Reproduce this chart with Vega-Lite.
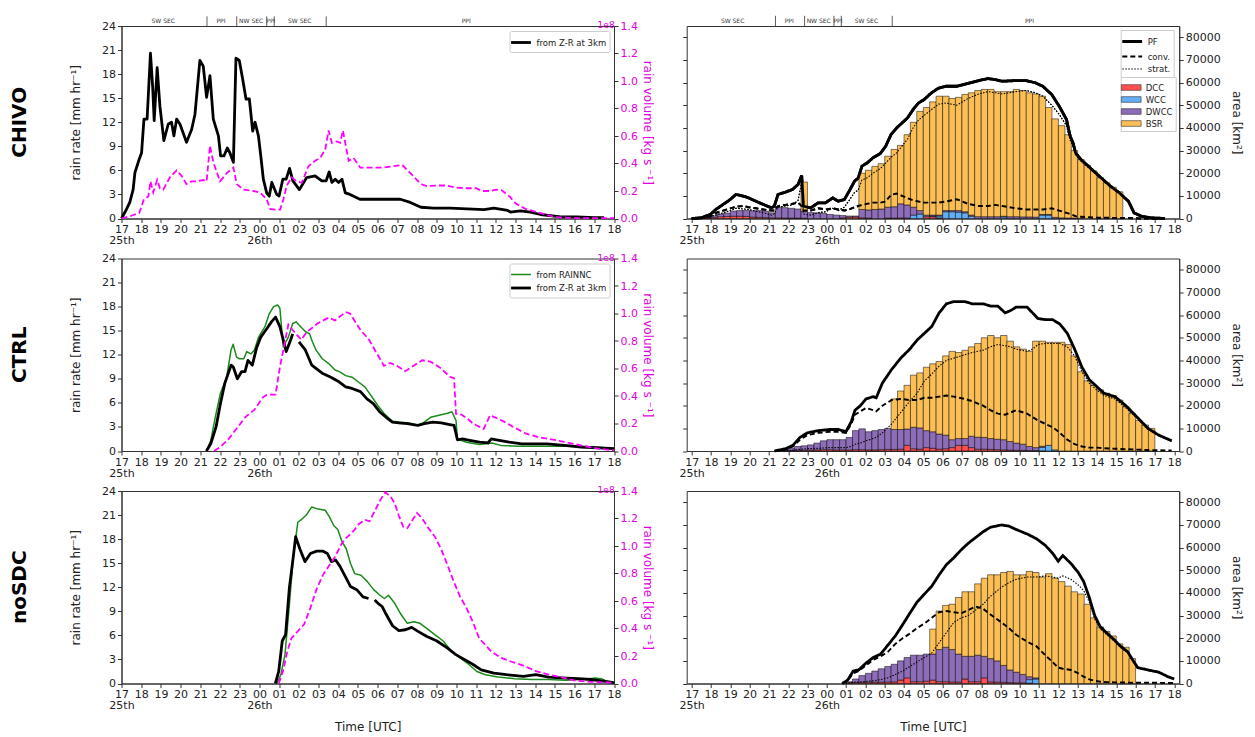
{
"$schema": "https://vega.github.io/schema/vega-lite/v6.json",
"padding": {"left": 8.5, "top": 14, "right": 4, "bottom": 2},
"background": "white",
"config": {
  "font": "DejaVu Sans",
  "view": {"stroke": "#333", "strokeWidth": 1},
  "axis": {"labelFont": "DejaVu Sans", "labelFontSize": 11, "labelColor": "#222", "titleFont": "DejaVu Sans", "titleFontSize": 12, "titleFontWeight": "normal", "titleColor": "#222", "tickColor": "#333", "domainColor": "#333", "grid": false, "tickSize": 4, "labelPadding": 2},
  "legend": {"labelFont": "DejaVu Sans", "labelColor": "#222", "labelOffset": 7, "layout": {"top-right": {"direction": "vertical", "margin": 0}}},
  "title": {"font": "DejaVu Sans"}
},
"datasets": {
  "a_rr": [
    {"t":0,"v":0},{"t":0.2,"v":0.9},{"t":0.42,"v":2.0},{"t":0.59,"v":3.6},{"t":0.68,"v":5.7},{"t":0.9,"v":7.4},{"t":1.02,"v":8.2},{"t":1.14,"v":12.4},{"t":1.3,"v":12.4},{"t":1.47,"v":20.6},{"t":1.58,"v":16.5},{"t":1.66,"v":12.2},{"t":1.81,"v":18.8},{"t":1.95,"v":14},{"t":2.15,"v":9.7},{"t":2.37,"v":11.75},{"t":2.54,"v":12},{"t":2.66,"v":10.3},{"t":2.8,"v":12.4},{"t":2.97,"v":11.75},{"t":3.3,"v":9.5},{"t":3.56,"v":11.1},{"t":3.73,"v":13},{"t":3.98,"v":19.7},{"t":4.15,"v":19},{"t":4.32,"v":15.1},{"t":4.49,"v":17.8},{"t":4.66,"v":12.4},{"t":4.92,"v":10.3},{"t":5.03,"v":7.8},{"t":5.2,"v":7.8},{"t":5.37,"v":8.8},{"t":5.5,"v":8.2},{"t":5.68,"v":7},{"t":5.81,"v":20},{"t":5.98,"v":19.7},{"t":6.15,"v":17.4},{"t":6.32,"v":14.9},{"t":6.49,"v":14.9},{"t":6.66,"v":10.9},{"t":6.78,"v":12},{"t":6.95,"v":10.3},{"t":7.07,"v":7.8},{"t":7.2,"v":4.9},{"t":7.37,"v":3.2},{"t":7.5,"v":2.8},{"t":7.63,"v":4.5},{"t":7.88,"v":3},{"t":8.0,"v":2.8},{"t":8.19,"v":4.9},{"t":8.36,"v":4.9},{"t":8.53,"v":6.25},{"t":8.7,"v":4.7},{"t":9.03,"v":3.6},{"t":9.4,"v":5.1},{"t":9.83,"v":5.3},{"t":10.17,"v":4.7},{"t":10.39,"v":4.7},{"t":10.54,"v":5.8},{"t":10.68,"v":4.5},{"t":10.85,"v":4.9},{"t":11.02,"v":4.5},{"t":11.19,"v":4.9},{"t":11.36,"v":3.2},{"t":11.6,"v":3},{"t":12.1,"v":2.4},{"t":13.47,"v":2.4},{"t":14.15,"v":2.4},{"t":14.66,"v":2.0},{"t":15.2,"v":1.4},{"t":15.85,"v":1.3},{"t":16.7,"v":1.3},{"t":17.54,"v":1.2},{"t":18.4,"v":1.1},{"t":18.9,"v":1.3},{"t":19.6,"v":1.0},{"t":19.75,"v":0.8},{"t":20.25,"v":0.95},{"t":20.76,"v":0.8},{"t":21.27,"v":0.5},{"t":22.3,"v":0.2},{"t":23.1,"v":0.2},{"t":24.0,"v":0.1},{"t":24.5,"v":0.1}
  ],
  "a_vol": [
    {"t":0,"q":0},{"t":0.5,"q":0.02},{"t":0.9,"q":0.04},{"t":1.14,"q":0.14},{"t":1.36,"q":0.16},{"t":1.47,"q":0.27},{"t":1.61,"q":0.19},{"t":1.81,"q":0.28},{"t":1.95,"q":0.22},{"t":2.12,"q":0.21},{"t":2.46,"q":0.3},{"t":2.8,"q":0.35},{"t":3.05,"q":0.31},{"t":3.3,"q":0.25},{"t":3.56,"q":0.27},{"t":3.81,"q":0.27},{"t":4.15,"q":0.28},{"t":4.32,"q":0.27},{"t":4.49,"q":0.53},{"t":4.66,"q":0.41},{"t":5.0,"q":0.27},{"t":5.34,"q":0.33},{"t":5.68,"q":0.37},{"t":5.85,"q":0.25},{"t":6.19,"q":0.21},{"t":6.69,"q":0.2},{"t":7.03,"q":0.19},{"t":7.37,"q":0.14},{"t":7.54,"q":0.07},{"t":7.8,"q":0.065},{"t":8.05,"q":0.065},{"t":8.22,"q":0.14},{"t":8.39,"q":0.24},{"t":8.64,"q":0.3},{"t":8.9,"q":0.27},{"t":9.15,"q":0.26},{"t":9.49,"q":0.38},{"t":9.83,"q":0.42},{"t":10.08,"q":0.44},{"t":10.34,"q":0.5},{"t":10.51,"q":0.64},{"t":10.68,"q":0.55},{"t":10.93,"q":0.56},{"t":11.1,"q":0.55},{"t":11.24,"q":0.64},{"t":11.53,"q":0.42},{"t":11.78,"q":0.44},{"t":12.12,"q":0.37},{"t":12.63,"q":0.37},{"t":13.3,"q":0.37},{"t":13.8,"q":0.38},{"t":14.25,"q":0.39},{"t":14.66,"q":0.33},{"t":15.2,"q":0.25},{"t":15.5,"q":0.235},{"t":16.0,"q":0.24},{"t":16.5,"q":0.24},{"t":17.0,"q":0.225},{"t":17.5,"q":0.22},{"t":18.0,"q":0.22},{"t":18.3,"q":0.2},{"t":18.7,"q":0.2},{"t":19.0,"q":0.21},{"t":19.3,"q":0.205},{"t":19.7,"q":0.16},{"t":20.0,"q":0.11},{"t":20.5,"q":0.07},{"t":21.0,"q":0.05},{"t":21.5,"q":0.03},{"t":22.0,"q":0.01},{"t":23.0,"q":0.003},{"t":25,"q":0.003}
  ],
  "c_rr": [
    {"t":4.31,"v":0,"s":"R"},{"t":4.53,"v":1.3,"s":"R"},{"t":4.76,"v":4.2,"s":"R"},{"t":5.02,"v":7.2,"s":"R"},{"t":5.34,"v":9.2,"s":"R"},{"t":5.56,"v":12.6,"s":"R"},{"t":5.67,"v":13.3,"s":"R"},{"t":5.84,"v":11.7,"s":"R"},{"t":5.99,"v":11.5,"s":"R"},{"t":6.21,"v":11.5,"s":"R"},{"t":6.36,"v":12.4,"s":"R"},{"t":6.57,"v":12.1,"s":"R"},{"t":6.75,"v":12.6,"s":"R"},{"t":6.96,"v":14.2,"s":"R"},{"t":7.28,"v":15.5,"s":"R"},{"t":7.5,"v":17.1,"s":"R"},{"t":7.72,"v":18.0,"s":"R"},{"t":7.93,"v":18.2,"s":"R"},{"t":8.04,"v":17.8,"s":"R"},{"t":8.21,"v":13,"s":"R"},{"t":8.47,"v":14.2,"s":"R"},{"t":8.69,"v":15.9,"s":"R"},{"t":8.86,"v":16.1,"s":"R"},{"t":9.01,"v":15.7,"s":"R"},{"t":9.33,"v":14.9,"s":"R"},{"t":9.55,"v":14.6,"s":"R"},{"t":9.66,"v":13.8,"s":"R"},{"t":9.87,"v":12.6,"s":"R"},{"t":10.19,"v":11.5,"s":"R"},{"t":10.52,"v":10.9,"s":"R"},{"t":10.84,"v":10.1,"s":"R"},{"t":11.06,"v":9.9,"s":"R"},{"t":11.38,"v":9.4,"s":"R"},{"t":11.7,"v":9.2,"s":"R"},{"t":12.03,"v":8.6,"s":"R"},{"t":12.35,"v":8.0,"s":"R"},{"t":12.67,"v":6.9,"s":"R"},{"t":13.0,"v":5.7,"s":"R"},{"t":13.32,"v":4.7,"s":"R"},{"t":13.75,"v":3.7,"s":"R"},{"t":14.18,"v":3.6,"s":"R"},{"t":14.61,"v":3.5,"s":"R"},{"t":15.04,"v":3.2,"s":"R"},{"t":15.37,"v":3.6,"s":"R"},{"t":15.69,"v":4.2,"s":"R"},{"t":16.12,"v":4.45,"s":"R"},{"t":16.55,"v":4.7,"s":"R"},{"t":16.77,"v":4.9,"s":"R"},{"t":16.98,"v":3.8,"s":"R"},{"t":17.05,"v":1.5,"s":"R"},{"t":17.52,"v":1.1,"s":"R"},{"t":18.17,"v":0.8,"s":"R"},{"t":18.8,"v":1.0,"s":"R"},{"t":19.25,"v":0.7,"s":"R"},{"t":20.1,"v":0.6,"s":"R"},{"t":20.97,"v":0.6,"s":"R"},{"t":21.8,"v":0.6,"s":"R"},{"t":22.9,"v":0.6,"s":"R"},{"t":24,"v":0.5,"s":"R"},{"t":25,"v":0.3,"s":"R"},
    {"t":4.31,"v":0,"s":"Z","g":1},{"t":4.53,"v":0.9,"s":"Z","g":1},{"t":4.8,"v":3,"s":"Z","g":1},{"t":5.02,"v":5.9,"s":"Z","g":1},{"t":5.24,"v":8.4,"s":"Z","g":1},{"t":5.56,"v":10.7,"s":"Z","g":1},{"t":5.67,"v":10.5,"s":"Z","g":1},{"t":5.88,"v":9,"s":"Z","g":1},{"t":6.1,"v":9.9,"s":"Z","g":1},{"t":6.27,"v":9.9,"s":"Z","g":1},{"t":6.42,"v":11.3,"s":"Z","g":1},{"t":6.64,"v":10.7,"s":"Z","g":1},{"t":6.85,"v":12.8,"s":"Z","g":1},{"t":7.07,"v":14.2,"s":"Z","g":1},{"t":7.39,"v":15.3,"s":"Z","g":1},{"t":7.61,"v":16.1,"s":"Z","g":1},{"t":7.82,"v":16.7,"s":"Z","g":1},{"t":8.04,"v":15.5,"s":"Z","g":1},{"t":8.36,"v":12.4,"s":"Z","g":1},{"t":8.58,"v":13.8,"s":"Z","g":1},{"t":8.69,"v":14.6,"s":"Z","g":1},
    {"t":9.01,"v":13.6,"s":"Z","g":2},{"t":9.33,"v":12.6,"s":"Z","g":2},{"t":9.66,"v":10.7,"s":"Z","g":2},{"t":9.87,"v":10.3,"s":"Z","g":2},{"t":10.19,"v":9.7,"s":"Z","g":2},{"t":10.63,"v":9.2,"s":"Z","g":2},{"t":11.06,"v":8.6,"s":"Z","g":2},{"t":11.38,"v":8,"s":"Z","g":2},{"t":11.7,"v":7.8,"s":"Z","g":2},{"t":12.13,"v":7.4,"s":"Z","g":2},{"t":12.46,"v":6.5,"s":"Z","g":2},{"t":12.78,"v":5.9,"s":"Z","g":2},{"t":13.1,"v":4.9,"s":"Z","g":2},{"t":13.43,"v":4.2,"s":"Z","g":2},{"t":13.75,"v":3.6,"s":"Z","g":2},{"t":14.07,"v":3.5,"s":"Z","g":2},{"t":14.5,"v":3.4,"s":"Z","g":2},{"t":15.04,"v":3.2,"s":"Z","g":2},{"t":15.37,"v":3.4,"s":"Z","g":2},{"t":15.8,"v":3.6,"s":"Z","g":2},{"t":16.23,"v":3.5,"s":"Z","g":2},{"t":16.66,"v":3.3,"s":"Z","g":2},{"t":16.88,"v":3.2,"s":"Z","g":2},{"t":16.98,"v":2.2,"s":"Z","g":2},{"t":17.05,"v":1.4,"s":"Z","g":2},{"t":17.3,"v":1.5,"s":"Z","g":2},{"t":17.74,"v":1.3,"s":"Z","g":2},{"t":18.17,"v":1.1,"s":"Z","g":2},{"t":18.6,"v":1.0,"s":"Z","g":2},{"t":18.77,"v":1.5,"s":"Z","g":2},{"t":19.03,"v":1.4,"s":"Z","g":2},{"t":19.68,"v":1.1,"s":"Z","g":2},{"t":20.32,"v":0.9,"s":"Z","g":2},{"t":21.6,"v":0.9,"s":"Z","g":2},{"t":22.48,"v":0.7,"s":"Z","g":2},{"t":23.34,"v":0.5,"s":"Z","g":2},{"t":25,"v":0.3,"s":"Z","g":2}
  ],
  "c_vol": [
    {"t":4.7,"q":0},{"t":5.02,"q":0.03},{"t":5.45,"q":0.09},{"t":5.88,"q":0.17},{"t":6.31,"q":0.25},{"t":6.75,"q":0.3},{"t":7.18,"q":0.39},{"t":7.39,"q":0.41},{"t":7.82,"q":0.41},{"t":8.04,"q":0.61},{"t":8.25,"q":0.76},{"t":8.47,"q":0.92},{"t":8.69,"q":0.88},{"t":9.12,"q":0.81},{"t":9.44,"q":0.87},{"t":9.98,"q":0.93},{"t":10.52,"q":0.97},{"t":10.84,"q":0.95},{"t":11.38,"q":1.01},{"t":11.6,"q":1.0},{"t":12.13,"q":0.88},{"t":12.56,"q":0.81},{"t":13.0,"q":0.7},{"t":13.32,"q":0.62},{"t":13.64,"q":0.64},{"t":13.97,"q":0.62},{"t":14.4,"q":0.58},{"t":14.83,"q":0.62},{"t":15.26,"q":0.66},{"t":15.69,"q":0.65},{"t":16.23,"q":0.6},{"t":16.66,"q":0.54},{"t":16.88,"q":0.53},{"t":16.98,"q":0.27},{"t":17.2,"q":0.27},{"t":17.52,"q":0.24},{"t":17.84,"q":0.2},{"t":18.38,"q":0.16},{"t":18.71,"q":0.26},{"t":19.03,"q":0.24},{"t":19.46,"q":0.21},{"t":19.89,"q":0.175},{"t":20.54,"q":0.126},{"t":21.19,"q":0.1},{"t":21.83,"q":0.085},{"t":22.48,"q":0.066},{"t":23.34,"q":0.04},{"t":24.2,"q":0.017},{"t":25,"q":0.005}
  ],
  "e_rr": [
    {"t":7.88,"v":0,"s":"R"},{"t":8.09,"v":1.1,"s":"R"},{"t":8.3,"v":3.6,"s":"R"},{"t":8.52,"v":9.8,"s":"R"},{"t":8.73,"v":16,"s":"R"},{"t":8.95,"v":20.1,"s":"R"},{"t":9.16,"v":20.5,"s":"R"},{"t":9.38,"v":21.0,"s":"R"},{"t":9.65,"v":22.0,"s":"R"},{"t":9.91,"v":21.8,"s":"R"},{"t":10.34,"v":21.6,"s":"R"},{"t":10.55,"v":20.8,"s":"R"},{"t":10.77,"v":19.7,"s":"R"},{"t":10.98,"v":19.2,"s":"R"},{"t":11.19,"v":17.7,"s":"R"},{"t":11.41,"v":16.8,"s":"R"},{"t":11.62,"v":15.0,"s":"R"},{"t":11.84,"v":13.7,"s":"R"},{"t":12.16,"v":13.5,"s":"R"},{"t":12.48,"v":12.7,"s":"R"},{"t":12.8,"v":11.7,"s":"R"},{"t":13.12,"v":11.0,"s":"R"},{"t":13.34,"v":10.6,"s":"R"},{"t":13.55,"v":11.0,"s":"R"},{"t":13.87,"v":10.0,"s":"R"},{"t":14.19,"v":8.6,"s":"R"},{"t":14.51,"v":7.5,"s":"R"},{"t":14.83,"v":7.7,"s":"R"},{"t":15.15,"v":7.5,"s":"R"},{"t":15.48,"v":6.9,"s":"R"},{"t":15.9,"v":6.1,"s":"R"},{"t":16.33,"v":5.3,"s":"R"},{"t":16.76,"v":4.0,"s":"R"},{"t":17.19,"v":3.2,"s":"R"},{"t":17.62,"v":2.4,"s":"R"},{"t":18.04,"v":1.5,"s":"R"},{"t":18.47,"v":1.1,"s":"R"},{"t":19.11,"v":0.8,"s":"R"},{"t":19.97,"v":0.6,"s":"R"},{"t":20.83,"v":0.5,"s":"R"},{"t":21.68,"v":0.5,"s":"R"},{"t":22.54,"v":0.4,"s":"R"},{"t":23.4,"v":0.5,"s":"R"},{"t":24.04,"v":0.7,"s":"R"},{"t":24.36,"v":0.6,"s":"R"},{"t":24.68,"v":0.2,"s":"R"},{"t":25,"v":0.05,"s":"R"},
    {"t":7.81,"v":0,"s":"Z","g":1},{"t":7.98,"v":1.5,"s":"Z","g":1},{"t":8.16,"v":5.3,"s":"Z","g":1},{"t":8.33,"v":6.1,"s":"Z","g":1},{"t":8.52,"v":11.9,"s":"Z","g":1},{"t":8.73,"v":16,"s":"Z","g":1},{"t":8.84,"v":18.3,"s":"Z","g":1},{"t":9.05,"v":16.8,"s":"Z","g":1},{"t":9.31,"v":15.2,"s":"Z","g":1},{"t":9.59,"v":16.2,"s":"Z","g":1},{"t":9.91,"v":16.5,"s":"Z","g":1},{"t":10.23,"v":16.5,"s":"Z","g":1},{"t":10.45,"v":16.2,"s":"Z","g":1},{"t":10.66,"v":15.2,"s":"Z","g":1},{"t":10.87,"v":15.4,"s":"Z","g":1},{"t":11.09,"v":14.6,"s":"Z","g":1},{"t":11.41,"v":13.1,"s":"Z","g":1},{"t":11.62,"v":12.1,"s":"Z","g":1},{"t":11.94,"v":11.7,"s":"Z","g":1},{"t":12.26,"v":10.8,"s":"Z","g":1},{"t":12.54,"v":10.6,"s":"Z","g":1},
    {"t":12.85,"v":10.4,"s":"Z","g":2},{"t":13.02,"v":10.0,"s":"Z","g":2},{"t":13.23,"v":9.6,"s":"Z","g":2},{"t":13.44,"v":8.6,"s":"Z","g":2},{"t":13.76,"v":7.2,"s":"Z","g":2},{"t":14.08,"v":6.6,"s":"Z","g":2},{"t":14.41,"v":6.7,"s":"Z","g":2},{"t":14.73,"v":7.0,"s":"Z","g":2},{"t":15.05,"v":6.5,"s":"Z","g":2},{"t":15.48,"v":5.9,"s":"Z","g":2},{"t":16.01,"v":5.3,"s":"Z","g":2},{"t":16.55,"v":4.4,"s":"Z","g":2},{"t":16.97,"v":3.6,"s":"Z","g":2},{"t":17.4,"v":3.0,"s":"Z","g":2},{"t":17.83,"v":2.4,"s":"Z","g":2},{"t":18.26,"v":1.7,"s":"Z","g":2},{"t":18.9,"v":1.3,"s":"Z","g":2},{"t":19.54,"v":1.1,"s":"Z","g":2},{"t":20.4,"v":0.9,"s":"Z","g":2},{"t":21.04,"v":1.1,"s":"Z","g":2},{"t":21.68,"v":0.8,"s":"Z","g":2},{"t":22.32,"v":0.7,"s":"Z","g":2},{"t":23.18,"v":0.6,"s":"Z","g":2},{"t":23.82,"v":0.5,"s":"Z","g":2},{"t":24.47,"v":0.3,"s":"Z","g":2},{"t":25,"v":0.1,"s":"Z","g":2}
  ],
  "e_vol": [
    {"t":7.98,"q":0},{"t":8.2,"q":0.09},{"t":8.41,"q":0.23},{"t":8.63,"q":0.33},{"t":8.95,"q":0.38},{"t":9.27,"q":0.43},{"t":9.59,"q":0.55},{"t":9.91,"q":0.69},{"t":10.23,"q":0.79},{"t":10.55,"q":0.86},{"t":10.87,"q":0.93},{"t":11.19,"q":1.02},{"t":11.41,"q":1.06},{"t":11.73,"q":1.1},{"t":12.05,"q":1.16},{"t":12.37,"q":1.19},{"t":12.59,"q":1.18},{"t":12.91,"q":1.27},{"t":13.12,"q":1.33},{"t":13.38,"q":1.39},{"t":13.66,"q":1.36},{"t":13.87,"q":1.31},{"t":14.08,"q":1.22},{"t":14.3,"q":1.14},{"t":14.51,"q":1.13},{"t":14.73,"q":1.18},{"t":15.0,"q":1.24},{"t":15.26,"q":1.2},{"t":15.58,"q":1.13},{"t":15.9,"q":1.07},{"t":16.22,"q":0.98},{"t":16.55,"q":0.86},{"t":16.87,"q":0.74},{"t":17.19,"q":0.63},{"t":17.51,"q":0.55},{"t":17.83,"q":0.45},{"t":18.15,"q":0.33},{"t":18.47,"q":0.28},{"t":18.79,"q":0.23},{"t":19.22,"q":0.19},{"t":19.76,"q":0.16},{"t":20.4,"q":0.13},{"t":21.04,"q":0.09},{"t":21.68,"q":0.065},{"t":22.32,"q":0.046},{"t":22.97,"q":0.022},{"t":23.82,"q":0.012},{"t":25,"q":0.005}
  ],
  "b_lines": [
    {"t":0,"PF":0,"conv":0,"strat":0},{"t":0.49,"PF":300,"conv":200,"strat":100},{"t":0.97,"PF":1800,"conv":1000,"strat":800},{"t":1.25,"PF":4000,"conv":2500,"strat":1500},{"t":1.63,"PF":6200,"conv":3500,"strat":2500},{"t":2.0,"PF":8400,"conv":4500,"strat":3500},{"t":2.29,"PF":10600,"conv":5200,"strat":4500},{"t":2.67,"PF":9900,"conv":5500,"strat":4200},{"t":2.95,"PF":9100,"conv":5000,"strat":4000},{"t":3.33,"PF":7600,"conv":4500,"strat":3200},{"t":3.71,"PF":6200,"conv":4000,"strat":2500},{"t":4.13,"PF":4700,"conv":3500,"strat":1500},{"t":4.28,"PF":5400,"conv":3500,"strat":2000},{"t":4.47,"PF":10600,"conv":5500,"strat":5000},{"t":4.84,"PF":11600,"conv":6000,"strat":5500},{"t":5.22,"PF":12800,"conv":6500,"strat":6000},{"t":5.51,"PF":15000,"conv":7000,"strat":8000},{"t":5.7,"PF":19000,"conv":5500,"strat":16000},{"t":5.79,"PF":5400,"conv":3500,"strat":2000},{"t":6.17,"PF":4700,"conv":3500,"strat":1500},{"t":6.55,"PF":6900,"conv":4500,"strat":2500},{"t":6.93,"PF":6900,"conv":4000,"strat":3000},{"t":7.31,"PF":9100,"conv":4500,"strat":4500},{"t":7.59,"PF":7600,"conv":4000,"strat":3500},{"t":7.91,"PF":8400,"conv":3500,"strat":5000},{"t":8.16,"PF":12100,"conv":4000,"strat":8000},{"t":8.44,"PF":16500,"conv":5000,"strat":11500},{"t":8.63,"PF":17900,"conv":5500,"strat":12500},{"t":8.82,"PF":23100,"conv":6000,"strat":17000},{"t":9.1,"PF":24600,"conv":6500,"strat":18000},{"t":9.39,"PF":26800,"conv":7000,"strat":20000},{"t":9.77,"PF":28700,"conv":7000,"strat":22000},{"t":10.05,"PF":31900,"conv":7500,"strat":24500},{"t":10.33,"PF":37100,"conv":10500,"strat":27000},{"t":10.62,"PF":40000,"conv":11000,"strat":29000},{"t":10.9,"PF":42200,"conv":10000,"strat":32000},{"t":11.18,"PF":44400,"conv":9000,"strat":35000},{"t":11.47,"PF":48100,"conv":8000,"strat":40000},{"t":11.75,"PF":51000,"conv":7500,"strat":43500},{"t":12.04,"PF":52500,"conv":7000,"strat":45500},{"t":12.41,"PF":55400,"conv":7000,"strat":48000},{"t":12.79,"PF":57600,"conv":7000,"strat":50500},{"t":13.17,"PF":58400,"conv":7500,"strat":51000},{"t":13.74,"PF":58400,"conv":8500,"strat":50000},{"t":14.31,"PF":59600,"conv":6500,"strat":53000},{"t":14.87,"PF":60900,"conv":5500,"strat":55000},{"t":15.35,"PF":61800,"conv":5500,"strat":56000},{"t":15.73,"PF":61300,"conv":6000,"strat":55500},{"t":16.1,"PF":60600,"conv":5500,"strat":55000},{"t":16.77,"PF":60900,"conv":4500,"strat":56000},{"t":17.34,"PF":60900,"conv":4000,"strat":56500},{"t":17.81,"PF":59900,"conv":4000,"strat":55500},{"t":18.19,"PF":58400,"conv":4000,"strat":54000},{"t":18.66,"PF":54700,"conv":4500,"strat":50000},{"t":19.04,"PF":49600,"conv":3500,"strat":46000},{"t":19.42,"PF":43700,"conv":2500,"strat":41000},{"t":19.61,"PF":36300,"conv":2000,"strat":34500},{"t":19.76,"PF":33400,"conv":1500,"strat":32000},{"t":19.89,"PF":29000,"conv":1000,"strat":28000},{"t":20.17,"PF":26000,"conv":800,"strat":25200},{"t":20.55,"PF":23100,"conv":600,"strat":22500},{"t":20.93,"PF":20100,"conv":400,"strat":19700},{"t":21.31,"PF":17200,"conv":300,"strat":16900},{"t":21.69,"PF":14300,"conv":300,"strat":14000},{"t":22.16,"PF":11300,"conv":200,"strat":11100},{"t":22.63,"PF":7600,"conv":200,"strat":7400},{"t":22.92,"PF":2500,"conv":100,"strat":2400},{"t":23.3,"PF":1000,"conv":0,"strat":1000},{"t":23.77,"PF":300,"conv":0,"strat":300},{"t":24.52,"PF":0,"conv":0,"strat":0}
  ],
  "b_bars": [
    {"t":0.83,"1DCC":200,"2WCC":0,"3DWCC":300,"4BSR":0},{"t":1.17,"1DCC":400,"2WCC":0,"3DWCC":800,"4BSR":0},{"t":1.5,"1DCC":800,"2WCC":0,"3DWCC":1200,"4BSR":0},{"t":1.83,"1DCC":900,"2WCC":0,"3DWCC":1500,"4BSR":0},{"t":2.17,"1DCC":1000,"2WCC":0,"3DWCC":2300,"4BSR":0},{"t":2.5,"1DCC":1000,"2WCC":0,"3DWCC":2500,"4BSR":0},{"t":2.83,"1DCC":900,"2WCC":0,"3DWCC":2600,"4BSR":0},{"t":3.17,"1DCC":600,"2WCC":0,"3DWCC":2800,"4BSR":0},{"t":3.5,"1DCC":500,"2WCC":0,"3DWCC":3000,"4BSR":0},{"t":3.83,"1DCC":400,"2WCC":0,"3DWCC":2800,"4BSR":0},{"t":4.17,"1DCC":300,"2WCC":0,"3DWCC":2200,"4BSR":0},{"t":4.5,"1DCC":300,"2WCC":0,"3DWCC":4700,"4BSR":0},{"t":4.83,"1DCC":200,"2WCC":0,"3DWCC":4600,"4BSR":0},{"t":5.17,"1DCC":200,"2WCC":0,"3DWCC":4300,"4BSR":0},{"t":5.5,"1DCC":200,"2WCC":0,"3DWCC":4000,"4BSR":0},{"t":5.83,"1DCC":100,"2WCC":0,"3DWCC":3000,"4BSR":13000},{"t":6.17,"1DCC":0,"2WCC":0,"3DWCC":2600,"4BSR":0},{"t":6.5,"1DCC":0,"2WCC":0,"3DWCC":2500,"4BSR":0},{"t":6.83,"1DCC":0,"2WCC":0,"3DWCC":2300,"4BSR":0},{"t":7.17,"1DCC":0,"2WCC":0,"3DWCC":1800,"4BSR":0},{"t":7.5,"1DCC":0,"2WCC":0,"3DWCC":1500,"4BSR":0},{"t":7.83,"1DCC":300,"2WCC":0,"3DWCC":1000,"4BSR":0},{"t":8.17,"1DCC":600,"2WCC":0,"3DWCC":500,"4BSR":0},{"t":8.5,"1DCC":700,"2WCC":0,"3DWCC":400,"4BSR":0},{"t":8.83,"1DCC":300,"2WCC":0,"3DWCC":3700,"4BSR":16000},{"t":9.17,"1DCC":200,"2WCC":0,"3DWCC":3600,"4BSR":17500},{"t":9.5,"1DCC":0,"2WCC":0,"3DWCC":4000,"4BSR":19000},{"t":9.83,"1DCC":0,"2WCC":0,"3DWCC":4200,"4BSR":20000},{"t":10.17,"1DCC":200,"2WCC":0,"3DWCC":4800,"4BSR":22500},{"t":10.5,"1DCC":200,"2WCC":0,"3DWCC":5000,"4BSR":25300},{"t":10.83,"1DCC":200,"2WCC":0,"3DWCC":6300,"4BSR":25800},{"t":11.17,"1DCC":200,"2WCC":0,"3DWCC":5800,"4BSR":31000},{"t":11.5,"1DCC":0,"2WCC":1500,"3DWCC":3500,"4BSR":37500},{"t":11.83,"1DCC":0,"2WCC":2000,"3DWCC":1500,"4BSR":43800},{"t":12.17,"1DCC":800,"2WCC":0,"3DWCC":700,"4BSR":47500},{"t":12.5,"1DCC":800,"2WCC":300,"3DWCC":400,"4BSR":50000},{"t":12.83,"1DCC":300,"2WCC":800,"3DWCC":400,"4BSR":52500},{"t":13.17,"1DCC":0,"2WCC":3000,"3DWCC":500,"4BSR":50500},{"t":13.5,"1DCC":0,"2WCC":3000,"3DWCC":500,"4BSR":49500},{"t":13.83,"1DCC":0,"2WCC":2800,"3DWCC":700,"4BSR":50000},{"t":14.17,"1DCC":0,"2WCC":2500,"3DWCC":500,"4BSR":51800},{"t":14.5,"1DCC":0,"2WCC":1000,"3DWCC":500,"4BSR":54000},{"t":14.83,"1DCC":0,"2WCC":0,"3DWCC":800,"4BSR":55700},{"t":15.17,"1DCC":0,"2WCC":0,"3DWCC":800,"4BSR":56200},{"t":15.5,"1DCC":0,"2WCC":0,"3DWCC":800,"4BSR":56200},{"t":15.83,"1DCC":0,"2WCC":0,"3DWCC":800,"4BSR":55200},{"t":16.17,"1DCC":0,"2WCC":700,"3DWCC":300,"4BSR":55000},{"t":16.5,"1DCC":0,"2WCC":0,"3DWCC":800,"4BSR":55200},{"t":16.83,"1DCC":0,"2WCC":0,"3DWCC":800,"4BSR":56200},{"t":17.17,"1DCC":0,"2WCC":0,"3DWCC":700,"4BSR":55800},{"t":17.5,"1DCC":0,"2WCC":0,"3DWCC":700,"4BSR":54800},{"t":17.83,"1DCC":0,"2WCC":0,"3DWCC":600,"4BSR":54400},{"t":18.17,"1DCC":0,"2WCC":1500,"3DWCC":300,"4BSR":52200},{"t":18.5,"1DCC":0,"2WCC":1500,"3DWCC":300,"4BSR":47200},{"t":18.83,"1DCC":0,"2WCC":0,"3DWCC":500,"4BSR":43500},{"t":19.17,"1DCC":0,"2WCC":0,"3DWCC":300,"4BSR":40700},{"t":19.5,"1DCC":0,"2WCC":0,"3DWCC":200,"4BSR":36800},{"t":19.83,"1DCC":0,"2WCC":0,"3DWCC":200,"4BSR":29800},{"t":20.17,"1DCC":0,"2WCC":0,"3DWCC":100,"4BSR":25900},{"t":20.5,"1DCC":0,"2WCC":0,"3DWCC":0,"4BSR":23500},{"t":20.83,"1DCC":0,"2WCC":0,"3DWCC":0,"4BSR":21000},{"t":21.17,"1DCC":0,"2WCC":0,"3DWCC":0,"4BSR":18000},{"t":21.5,"1DCC":0,"2WCC":0,"3DWCC":0,"4BSR":15800},{"t":21.83,"1DCC":0,"2WCC":0,"3DWCC":0,"4BSR":13800},{"t":22.17,"1DCC":0,"2WCC":0,"3DWCC":0,"4BSR":11800}
  ],
  "d_lines": [
    {"t":4.29,"PF":0,"conv":0,"strat":0},{"t":4.86,"PF":1000,"conv":800,"strat":200},{"t":5.24,"PF":2500,"conv":2000,"strat":400},{"t":5.61,"PF":6000,"conv":5000,"strat":700},{"t":5.99,"PF":8000,"conv":7000,"strat":1000},{"t":6.56,"PF":9000,"conv":8000,"strat":1200},{"t":7.13,"PF":9500,"conv":8500,"strat":1500},{"t":7.61,"PF":9500,"conv":8500,"strat":1500},{"t":7.99,"PF":8500,"conv":8000,"strat":1500},{"t":8.27,"PF":13000,"conv":12000,"strat":2000},{"t":8.46,"PF":18000,"conv":16000,"strat":3000},{"t":8.74,"PF":20000,"conv":17500,"strat":3500},{"t":9.03,"PF":23000,"conv":19000,"strat":4500},{"t":9.41,"PF":24000,"conv":18000,"strat":5500},{"t":9.56,"PF":23500,"conv":17500,"strat":6000},{"t":9.88,"PF":30000,"conv":20000,"strat":8000},{"t":10.36,"PF":36000,"conv":22500,"strat":12000},{"t":10.83,"PF":41000,"conv":23000,"strat":17000},{"t":11.3,"PF":45000,"conv":22500,"strat":22000},{"t":11.68,"PF":49000,"conv":22500,"strat":25500},{"t":12.06,"PF":52000,"conv":23500,"strat":31000},{"t":12.44,"PF":55000,"conv":23500,"strat":34000},{"t":12.82,"PF":61000,"conv":24000,"strat":37500},{"t":13.2,"PF":65000,"conv":24500,"strat":40000},{"t":13.58,"PF":66000,"conv":24000,"strat":41000},{"t":14.15,"PF":66000,"conv":23000,"strat":42500},{"t":14.53,"PF":65000,"conv":22000,"strat":43500},{"t":15.1,"PF":65000,"conv":20000,"strat":44500},{"t":15.48,"PF":64000,"conv":18000,"strat":46000},{"t":15.86,"PF":64000,"conv":16500,"strat":47000},{"t":16.24,"PF":61000,"conv":16000,"strat":46500},{"t":16.52,"PF":62000,"conv":17000,"strat":46000},{"t":16.81,"PF":63500,"conv":18000,"strat":45000},{"t":17.38,"PF":63500,"conv":16500,"strat":44000},{"t":17.66,"PF":61000,"conv":15000,"strat":45000},{"t":17.94,"PF":58500,"conv":13500,"strat":47000},{"t":18.32,"PF":58000,"conv":12000,"strat":47500},{"t":18.7,"PF":58000,"conv":10500,"strat":47500},{"t":19.08,"PF":56000,"conv":8000,"strat":47500},{"t":19.46,"PF":52000,"conv":5000,"strat":46000},{"t":19.84,"PF":45000,"conv":3000,"strat":42000},{"t":20.22,"PF":37000,"conv":2000,"strat":35000},{"t":20.6,"PF":31500,"conv":1500,"strat":30000},{"t":20.98,"PF":28500,"conv":1500,"strat":27000},{"t":21.36,"PF":25500,"conv":1200,"strat":24500},{"t":21.93,"PF":24000,"conv":1000,"strat":23000},{"t":22.5,"PF":20000,"conv":800,"strat":19000},{"t":23.07,"PF":15000,"conv":600,"strat":14500},{"t":23.64,"PF":10000,"conv":400,"strat":9600},{"t":24.2,"PF":7000,"conv":300,"strat":6700},{"t":24.87,"PF":4500,"conv":200,"strat":4300}
  ],
  "d_bars": [
    {"t":4.5,"1DCC":0,"2WCC":0,"3DWCC":300,"4BSR":0},{"t":4.83,"1DCC":100,"2WCC":0,"3DWCC":700,"4BSR":0},{"t":5.17,"1DCC":200,"2WCC":0,"3DWCC":1100,"4BSR":0},{"t":5.5,"1DCC":300,"2WCC":0,"3DWCC":1700,"4BSR":0},{"t":5.83,"1DCC":300,"2WCC":0,"3DWCC":2000,"4BSR":0},{"t":6.17,"1DCC":400,"2WCC":0,"3DWCC":2300,"4BSR":0},{"t":6.5,"1DCC":500,"2WCC":0,"3DWCC":3000,"4BSR":0},{"t":6.83,"1DCC":600,"2WCC":0,"3DWCC":3900,"4BSR":0},{"t":7.17,"1DCC":600,"2WCC":0,"3DWCC":4400,"4BSR":0},{"t":7.5,"1DCC":500,"2WCC":0,"3DWCC":4500,"4BSR":0},{"t":7.83,"1DCC":500,"2WCC":0,"3DWCC":4500,"4BSR":0},{"t":8.17,"1DCC":500,"2WCC":0,"3DWCC":5500,"4BSR":0},{"t":8.5,"1DCC":600,"2WCC":0,"3DWCC":8400,"4BSR":0},{"t":8.83,"1DCC":600,"2WCC":0,"3DWCC":9200,"4BSR":0},{"t":9.17,"1DCC":500,"2WCC":0,"3DWCC":8000,"4BSR":0},{"t":9.5,"1DCC":500,"2WCC":0,"3DWCC":8500,"4BSR":0},{"t":9.83,"1DCC":600,"2WCC":0,"3DWCC":8900,"4BSR":0},{"t":10.17,"1DCC":700,"2WCC":0,"3DWCC":9300,"4BSR":0},{"t":10.5,"1DCC":700,"2WCC":0,"3DWCC":8800,"4BSR":13500},{"t":10.83,"1DCC":800,"2WCC":0,"3DWCC":8700,"4BSR":17000},{"t":11.17,"1DCC":2500,"2WCC":0,"3DWCC":7200,"4BSR":19300},{"t":11.5,"1DCC":1000,"2WCC":0,"3DWCC":9500,"4BSR":23000},{"t":11.83,"1DCC":800,"2WCC":0,"3DWCC":9400,"4BSR":24300},{"t":12.17,"1DCC":1500,"2WCC":0,"3DWCC":7500,"4BSR":28000},{"t":12.5,"1DCC":1200,"2WCC":0,"3DWCC":7300,"4BSR":30000},{"t":12.83,"1DCC":800,"2WCC":0,"3DWCC":6700,"4BSR":32000},{"t":13.17,"1DCC":1000,"2WCC":0,"3DWCC":6000,"4BSR":35000},{"t":13.5,"1DCC":1500,"2WCC":0,"3DWCC":3500,"4BSR":39000},{"t":13.83,"1DCC":2500,"2WCC":0,"3DWCC":3000,"4BSR":38000},{"t":14.17,"1DCC":2500,"2WCC":0,"3DWCC":3000,"4BSR":39000},{"t":14.5,"1DCC":1500,"2WCC":0,"3DWCC":5000,"4BSR":39500},{"t":14.83,"1DCC":800,"2WCC":0,"3DWCC":5300,"4BSR":41400},{"t":15.17,"1DCC":800,"2WCC":0,"3DWCC":5200,"4BSR":44000},{"t":15.5,"1DCC":700,"2WCC":0,"3DWCC":4800,"4BSR":45500},{"t":15.83,"1DCC":600,"2WCC":0,"3DWCC":4600,"4BSR":44800},{"t":16.17,"1DCC":500,"2WCC":0,"3DWCC":4500,"4BSR":46000},{"t":16.5,"1DCC":400,"2WCC":0,"3DWCC":3800,"4BSR":44300},{"t":16.83,"1DCC":300,"2WCC":0,"3DWCC":3200,"4BSR":42500},{"t":17.17,"1DCC":300,"2WCC":0,"3DWCC":2700,"4BSR":42000},{"t":17.5,"1DCC":200,"2WCC":0,"3DWCC":1800,"4BSR":42000},{"t":17.83,"1DCC":200,"2WCC":0,"3DWCC":1300,"4BSR":47000},{"t":18.17,"1DCC":100,"2WCC":1500,"3DWCC":500,"4BSR":46400},{"t":18.5,"1DCC":0,"2WCC":2500,"3DWCC":0,"4BSR":45500},{"t":18.83,"1DCC":0,"2WCC":500,"3DWCC":0,"4BSR":47500},{"t":19.17,"1DCC":0,"2WCC":0,"3DWCC":0,"4BSR":48000},{"t":19.5,"1DCC":0,"2WCC":0,"3DWCC":0,"4BSR":47000},{"t":19.83,"1DCC":0,"2WCC":0,"3DWCC":0,"4BSR":42000},{"t":20.17,"1DCC":0,"2WCC":0,"3DWCC":0,"4BSR":35000},{"t":20.5,"1DCC":0,"2WCC":0,"3DWCC":0,"4BSR":31000},{"t":20.83,"1DCC":0,"2WCC":0,"3DWCC":0,"4BSR":29000},{"t":21.17,"1DCC":0,"2WCC":0,"3DWCC":0,"4BSR":27000},{"t":21.5,"1DCC":0,"2WCC":0,"3DWCC":0,"4BSR":25500},{"t":21.83,"1DCC":0,"2WCC":0,"3DWCC":0,"4BSR":24500},{"t":22.17,"1DCC":0,"2WCC":0,"3DWCC":0,"4BSR":22500},{"t":22.5,"1DCC":0,"2WCC":0,"3DWCC":0,"4BSR":19500},{"t":22.83,"1DCC":0,"2WCC":0,"3DWCC":0,"4BSR":16500},{"t":23.17,"1DCC":0,"2WCC":0,"3DWCC":0,"4BSR":13500},{"t":23.5,"1DCC":0,"2WCC":0,"3DWCC":0,"4BSR":11500},{"t":23.83,"1DCC":0,"2WCC":0,"3DWCC":0,"4BSR":10000}
  ],
  "f_lines": [
    {"t":7.8,"PF":0,"conv":0,"strat":0},{"t":8.08,"PF":1500,"conv":1300,"strat":200},{"t":8.37,"PF":5500,"conv":4500,"strat":500},{"t":8.65,"PF":6000,"conv":5500,"strat":600},{"t":9.03,"PF":9000,"conv":8000,"strat":900},{"t":9.41,"PF":11500,"conv":10500,"strat":1200},{"t":9.79,"PF":13000,"conv":12000,"strat":1700},{"t":10.17,"PF":17000,"conv":14000,"strat":2500},{"t":10.55,"PF":21000,"conv":17500,"strat":4000},{"t":10.93,"PF":26000,"conv":20000,"strat":5500},{"t":11.3,"PF":31000,"conv":22000,"strat":7500},{"t":11.68,"PF":36000,"conv":24500,"strat":9500},{"t":12.06,"PF":39500,"conv":26500,"strat":11500},{"t":12.44,"PF":43000,"conv":29000,"strat":13500},{"t":12.82,"PF":48000,"conv":31500,"strat":18000},{"t":13.2,"PF":52500,"conv":32000,"strat":22500},{"t":13.58,"PF":55500,"conv":31500,"strat":27000},{"t":13.96,"PF":59000,"conv":31000,"strat":29000},{"t":14.34,"PF":62000,"conv":32500,"strat":30000},{"t":14.72,"PF":64500,"conv":34000,"strat":32500},{"t":15.1,"PF":67000,"conv":33000,"strat":35000},{"t":15.48,"PF":69000,"conv":30500,"strat":38500},{"t":16.05,"PF":70000,"conv":27000,"strat":42500},{"t":16.43,"PF":69500,"conv":24500,"strat":44500},{"t":16.81,"PF":68000,"conv":21500,"strat":46000},{"t":17.38,"PF":66000,"conv":18500,"strat":47000},{"t":17.85,"PF":64000,"conv":16500,"strat":47000},{"t":18.32,"PF":61000,"conv":12500,"strat":47500},{"t":18.7,"PF":57500,"conv":9500,"strat":47000},{"t":18.99,"PF":54000,"conv":7000,"strat":46500},{"t":19.23,"PF":56500,"conv":6500,"strat":47500},{"t":19.65,"PF":53000,"conv":6000,"strat":46000},{"t":20.03,"PF":49000,"conv":4500,"strat":43500},{"t":20.31,"PF":45000,"conv":3000,"strat":41000},{"t":20.6,"PF":38000,"conv":1800,"strat":36000},{"t":20.88,"PF":30000,"conv":1200,"strat":28500},{"t":21.17,"PF":25000,"conv":800,"strat":24000},{"t":21.55,"PF":22000,"conv":600,"strat":21200},{"t":21.93,"PF":19000,"conv":500,"strat":18400},{"t":22.21,"PF":16500,"conv":400,"strat":16000},{"t":22.59,"PF":14000,"conv":400,"strat":13500},{"t":22.88,"PF":10000,"conv":300,"strat":9600},{"t":23.11,"PF":7000,"conv":300,"strat":6700},{"t":23.64,"PF":6000,"conv":300,"strat":5700},{"t":24.2,"PF":5000,"conv":300,"strat":4700},{"t":24.68,"PF":3000,"conv":200,"strat":2800},{"t":25.0,"PF":2000,"conv":200,"strat":1800}
  ],
  "f_bars": [
    {"t":8.17,"1DCC":300,"2WCC":0,"3DWCC":500,"4BSR":0},{"t":8.5,"1DCC":500,"2WCC":0,"3DWCC":1500,"4BSR":0},{"t":8.83,"1DCC":500,"2WCC":0,"3DWCC":3000,"4BSR":0},{"t":9.17,"1DCC":500,"2WCC":0,"3DWCC":4000,"4BSR":0},{"t":9.5,"1DCC":600,"2WCC":0,"3DWCC":4900,"4BSR":0},{"t":9.83,"1DCC":600,"2WCC":0,"3DWCC":5900,"4BSR":0},{"t":10.17,"1DCC":700,"2WCC":0,"3DWCC":6800,"4BSR":0},{"t":10.5,"1DCC":700,"2WCC":0,"3DWCC":7800,"4BSR":0},{"t":10.83,"1DCC":1500,"2WCC":0,"3DWCC":8500,"4BSR":0},{"t":11.17,"1DCC":2500,"2WCC":0,"3DWCC":9000,"4BSR":0},{"t":11.5,"1DCC":800,"2WCC":0,"3DWCC":11700,"4BSR":0},{"t":11.83,"1DCC":800,"2WCC":0,"3DWCC":11700,"4BSR":0},{"t":12.17,"1DCC":1000,"2WCC":0,"3DWCC":12000,"4BSR":0},{"t":12.5,"1DCC":1500,"2WCC":0,"3DWCC":11500,"4BSR":11000},{"t":12.83,"1DCC":800,"2WCC":0,"3DWCC":14200,"4BSR":17000},{"t":13.17,"1DCC":800,"2WCC":0,"3DWCC":15200,"4BSR":18500},{"t":13.5,"1DCC":700,"2WCC":0,"3DWCC":14300,"4BSR":20000},{"t":13.83,"1DCC":600,"2WCC":0,"3DWCC":12400,"4BSR":25000},{"t":14.17,"1DCC":2000,"2WCC":0,"3DWCC":10000,"4BSR":28500},{"t":14.5,"1DCC":800,"2WCC":0,"3DWCC":11200,"4BSR":28500},{"t":14.83,"1DCC":800,"2WCC":0,"3DWCC":11700,"4BSR":31500},{"t":15.17,"1DCC":2500,"2WCC":0,"3DWCC":9500,"4BSR":34500},{"t":15.5,"1DCC":700,"2WCC":0,"3DWCC":10300,"4BSR":37000},{"t":15.83,"1DCC":600,"2WCC":0,"3DWCC":9400,"4BSR":38000},{"t":16.17,"1DCC":500,"2WCC":0,"3DWCC":7500,"4BSR":41000},{"t":16.5,"1DCC":400,"2WCC":0,"3DWCC":5600,"4BSR":43500},{"t":16.83,"1DCC":300,"2WCC":0,"3DWCC":4700,"4BSR":43000},{"t":17.17,"1DCC":300,"2WCC":0,"3DWCC":3700,"4BSR":44000},{"t":17.5,"1DCC":200,"2WCC":1500,"3DWCC":1300,"4BSR":46500},{"t":17.83,"1DCC":0,"2WCC":2000,"3DWCC":500,"4BSR":46500},{"t":18.17,"1DCC":0,"2WCC":0,"3DWCC":0,"4BSR":47000},{"t":18.5,"1DCC":0,"2WCC":0,"3DWCC":0,"4BSR":48500},{"t":18.83,"1DCC":0,"2WCC":0,"3DWCC":0,"4BSR":46500},{"t":19.17,"1DCC":0,"2WCC":0,"3DWCC":0,"4BSR":45000},{"t":19.5,"1DCC":0,"2WCC":0,"3DWCC":0,"4BSR":43000},{"t":19.83,"1DCC":0,"2WCC":0,"3DWCC":0,"4BSR":40500},{"t":20.17,"1DCC":0,"2WCC":0,"3DWCC":0,"4BSR":39500},{"t":20.5,"1DCC":0,"2WCC":0,"3DWCC":0,"4BSR":35000},{"t":20.83,"1DCC":0,"2WCC":0,"3DWCC":0,"4BSR":29000},{"t":21.17,"1DCC":0,"2WCC":0,"3DWCC":0,"4BSR":25000},{"t":21.5,"1DCC":0,"2WCC":0,"3DWCC":0,"4BSR":23000},{"t":21.83,"1DCC":0,"2WCC":0,"3DWCC":0,"4BSR":21000},{"t":22.17,"1DCC":0,"2WCC":0,"3DWCC":0,"4BSR":17500},{"t":22.5,"1DCC":0,"2WCC":0,"3DWCC":0,"4BSR":16000},{"t":22.83,"1DCC":0,"2WCC":0,"3DWCC":0,"4BSR":11000}
  ],
  "bounds": [{"b":4.34},{"b":5.85},{"b":7.37},{"b":7.75},{"b":10.39}],
  "regions": [{"m":2.12,"lab":"SW SEC"},{"m":5.05,"lab":"PPI"},{"m":6.58,"lab":"NW SEC"},{"m":7.58,"lab":"PPI"},{"m":9.05,"lab":"SW SEC"},{"m":17.5,"lab":"PPI"}],
  "offset": [{"t": 24.6, "v": 24, "lab": "1e8"}]
},
"columns": 2,
"spacing": {"row": 39.5, "column": 72.2},
"bounds": "flush",
"resolve": {"scale": {"color": "independent", "fill": "independent", "strokeDash": "independent", "strokeWidth": "independent"}, "legend": {"color": "independent", "fill": "independent", "strokeDash": "independent", "strokeWidth": "independent"}},
"concat": [
    {"width": 492.5, "height": 192.5,
     "title": {"text": "CHIVO", "orient": "left", "anchor": "middle", "fontSize": 20, "fontWeight": "bold", "offset": 40, "color": "#000"},
     "layer": [
       {"layer": [
         {"data": {"name": "a_rr"}, "mark": {"type": "line", "strokeJoin": "round", "color": "black", "strokeWidth": 2.8},
          "encoding": {
            "x": {"field": "t", "type": "quantitative", "scale": {"domain": [0, 25], "nice": false, "zero": false}, "axis": {"values": [0,1,2,3,4,5,6,7,8,9,10,11,12,13,14,15,16,17,18,19,20,21,22,23,24,25], "tickCount": 30, "labelExpr": "[(datum.value + 17) % 24 < 10 ? '0' + ((datum.value + 17) % 24) : '' + ((datum.value + 17) % 24), datum.value == 0 ? '25th' : (datum.value == 7 ? '26th' : '')]", "title": null, "labelOverlap": false, "labelFlush": false, "labelLineHeight": 11, "labelPadding": 1}},
            "y": {"field": "v", "type": "quantitative", "scale": {"domain": [0, 24], "nice": false}, "axis": {"values": [0,3,6,9,12,15,18,21,24], "tickCount": 10, "title": "rain rate [mm hr⁻¹]", "titlePadding": 19}}
          }},
         {"data": {"values": [{"s": "Z"}]}, "mark": {"type": "line", "color": "black"}, "encoding": {"color": {"field": "s", "type": "nominal", "scale": {"domain": ["Z"], "range": ["black"]}, "legend": {"title": null, "orient": "top-right", "labelExpr": "'from Z-R at 3km'", "symbolType": "M-1.4,0H1.4", "symbolSize": 200, "symbolStrokeWidth": 2.8, "labelFontSize": 8.5, "fillColor": "white", "strokeColor": "#ccc", "padding": 3, "cornerRadius": 2, "offset": 5}}}},
         {"mark": {"type": "text", "text": "a)", "fontWeight": "bold", "fontSize": 12, "align": "left", "baseline": "middle"}, "encoding": {"x": {"datum": 0.25, "type": "quantitative"}, "y": {"datum": 22.3, "type": "quantitative"}}},
         {"data": {"name": "offset"}, "mark": {"type": "text", "color": "#dd00dd", "fontSize": 9, "align": "center", "baseline": "middle", "dy": -1}, "encoding": {"x": {"field": "t", "type": "quantitative", "title": null}, "y": {"field": "v", "type": "quantitative"}, "text": {"field": "lab"}}},
         {"data": {"name": "bounds"}, "mark": {"type": "rule", "color": "#333", "strokeWidth": 0.8}, "encoding": {"x": {"field": "b", "type": "quantitative", "title": null}, "y": {"datum": 24}, "y2": {"datum": 25.2}}},
         {"data": {"name": "regions"}, "mark": {"type": "text", "fontSize": 6, "baseline": "middle", "color": "#333"}, "encoding": {"x": {"field": "m", "type": "quantitative", "title": null}, "y": {"datum": 24.6}, "text": {"field": "lab"}}}
       ]},
       {"layer": [
         {"data": {"name": "a_vol"}, "mark": {"type": "line", "color": "#ff00ff", "strokeDash": [6, 3], "strokeWidth": 1.8},
          "encoding": {"x": {"field": "t", "type": "quantitative", "title": null}, "y": {"field": "q", "type": "quantitative", "scale": {"domain": [0, 1.4], "nice": false}, "axis": {"orient": "right", "values": [0,0.2,0.4,0.6,0.8,1.0,1.2,1.4], "tickCount": 10, "format": ".1f", "title": "rain volume [kg s ⁻¹]", "titleColor": "#e000e0", "labelColor": "#e000e0", "titlePadding": 3}}}}
       ]}
     ],
     "resolve": {"scale": {"y": "independent"}}
    },
    {"width": 492.5, "height": 192.5,
     "layer": [
       {"data": {"name": "b_lines"}, "transform": [{"fold": ["PF", "conv", "strat"], "as": ["k", "v"]}],
        "mark": {"type": "line", "color": "black"},
        "encoding": {
          "x": {"field": "t", "type": "quantitative", "scale": {"domain": [0, 25], "nice": false, "zero": false}, "axis": {"values": [0,1,2,3,4,5,6,7,8,9,10,11,12,13,14,15,16,17,18,19,20,21,22,23,24,25], "tickCount": 30, "labelExpr": "[(datum.value + 17) % 24 < 10 ? '0' + ((datum.value + 17) % 24) : '' + ((datum.value + 17) % 24), datum.value == 0 ? '25th' : (datum.value == 7 ? '26th' : '')]", "title": null, "labelOverlap": false, "labelFlush": false, "labelLineHeight": 11, "labelPadding": 1}},
          "y": {"field": "v", "type": "quantitative", "scale": {"domain": [0, 85000], "nice": false}, "axis": {"orient": "right", "values": [0,10000,20000,30000,40000,50000,60000,70000,80000], "tickCount": 10, "format": "d", "title": "area [km²]", "titlePadding": 9}},
          "color": {"field": "k", "type": "nominal", "scale": {"domain": ["PF", "conv", "strat"], "range": ["black", "black", "black"]}, "legend": {"title": null, "orient": "top-right", "labelExpr": "datum.label == 'PF' ? 'PF' : datum.label + '.'", "symbolType": "M-1.4,0H1.4", "symbolSize": 200, "labelFontSize": 8.5, "fillColor": "white", "strokeColor": "#ccc", "padding": 3, "rowPadding": 0, "offset": 4}},
          "strokeDash": {"field": "k", "type": "nominal", "scale": {"domain": ["PF", "conv", "strat"], "range": [[1, 0], [5, 3], [1.5, 1.5]]}, "legend": {"title": null, "orient": "top-right", "labelExpr": "datum.label == 'PF' ? 'PF' : datum.label + '.'", "symbolType": "M-1.4,0H1.4", "symbolSize": 200, "labelFontSize": 8.5, "fillColor": "white", "strokeColor": "#ccc", "padding": 3, "rowPadding": 0, "offset": 4}},
          "strokeWidth": {"field": "k", "type": "ordinal", "scale": {"domain": ["PF", "conv", "strat"], "range": [2.8, 1.1, 1.1]}, "legend": {"title": null, "orient": "top-right", "labelExpr": "datum.label == 'PF' ? 'PF' : datum.label + '.'", "symbolType": "M-1.4,0H1.4", "symbolSize": 200, "labelFontSize": 8.5, "fillColor": "white", "strokeColor": "#ccc", "padding": 3, "rowPadding": 0, "offset": 4}}
        }},
       {"data": {"name": "b_bars"}, "transform": [{"fold": ["1DCC", "2WCC", "3DWCC", "4BSR"], "as": ["cat", "val"]}, {"filter": "datum.val > 0"}],
        "mark": {"type": "bar", "width": 6.5, "stroke": "black", "strokeWidth": 0.5},
        "encoding": {
          "x": {"field": "t", "type": "quantitative", "title": null},
          "y": {"field": "val", "type": "quantitative", "stack": "zero", "axis": {"orient": "left", "labels": false, "title": null, "domain": false, "values": [0,10000,20000,30000,40000,50000,60000,70000,80000], "tickCount": 10}},
          "fill": {"field": "cat", "type": "nominal", "scale": {"domain": ["1DCC", "2WCC", "3DWCC", "4BSR"], "range": ["#ff4f4f", "#62aef5", "#8d6cb8", "#fbbf55"]}, "legend": {"title": null, "orient": "top-right", "labelExpr": "substring(datum.label, 1)", "symbolType": "M-1.4,-0.4H1.4V0.4H-1.4Z", "symbolSize": 200, "symbolStrokeColor": "#333", "symbolStrokeWidth": 0.6, "labelFontSize": 8.5, "fillColor": "white", "strokeColor": "#ccc", "padding": 3, "rowPadding": 0, "offset": 4}},
          "order": {"field": "cat", "type": "ordinal", "sort": "ascending"}
        }},
       {"data": {"name": "b_lines"}, "transform": [{"fold": ["PF", "conv", "strat"], "as": ["k", "v"]}],
        "mark": {"type": "line", "color": "black"},
        "encoding": {
          "x": {"field": "t", "type": "quantitative", "title": null},
          "y": {"field": "v", "type": "quantitative", "axis": null},
          "color": {"field": "k", "type": "nominal", "scale": {"domain": ["PF", "conv", "strat"], "range": ["black", "black", "black"]}, "legend": {"title": null, "orient": "top-right", "labelExpr": "datum.label == 'PF' ? 'PF' : datum.label + '.'", "symbolType": "M-1.4,0H1.4", "symbolSize": 200, "labelFontSize": 8.5, "fillColor": "white", "strokeColor": "#ccc", "padding": 3, "rowPadding": 0, "offset": 4}},
          "strokeDash": {"field": "k", "type": "nominal", "scale": {"domain": ["PF", "conv", "strat"], "range": [[1, 0], [5, 3], [1.5, 1.5]]}, "legend": {"title": null, "orient": "top-right", "labelExpr": "datum.label == 'PF' ? 'PF' : datum.label + '.'", "symbolType": "M-1.4,0H1.4", "symbolSize": 200, "labelFontSize": 8.5, "fillColor": "white", "strokeColor": "#ccc", "padding": 3, "rowPadding": 0, "offset": 4}},
          "strokeWidth": {"field": "k", "type": "ordinal", "scale": {"domain": ["PF", "conv", "strat"], "range": [2.8, 1.1, 1.1]}, "legend": {"title": null, "orient": "top-right", "labelExpr": "datum.label == 'PF' ? 'PF' : datum.label + '.'", "symbolType": "M-1.4,0H1.4", "symbolSize": 200, "labelFontSize": 8.5, "fillColor": "white", "strokeColor": "#ccc", "padding": 3, "rowPadding": 0, "offset": 4}}
        }},
       {"mark": {"type": "text", "text": "b)", "fontWeight": "bold", "fontSize": 12, "align": "left", "baseline": "middle"}, "encoding": {"x": {"datum": 0.25, "type": "quantitative"}, "y": {"datum": 79000, "type": "quantitative", "axis": null}}},
       {"data": {"name": "bounds"}, "mark": {"type": "rule", "color": "#333", "strokeWidth": 0.8}, "encoding": {"x": {"field": "b", "type": "quantitative", "title": null}, "y": {"datum": 85000, "axis": null}, "y2": {"datum": 89500}}},
       {"data": {"name": "regions"}, "mark": {"type": "text", "fontSize": 6, "baseline": "middle", "color": "#333"}, "encoding": {"x": {"field": "m", "type": "quantitative", "title": null}, "y": {"datum": 87300, "axis": null}, "text": {"field": "lab"}}}
     ],
     "resolve": {"axis": {"y": "independent"}}
    },
    {"width": 492.5, "height": 192.5,
     "title": {"text": "CTRL", "orient": "left", "anchor": "middle", "fontSize": 20, "fontWeight": "bold", "offset": 40, "color": "#000"},
     "layer": [
       {"layer": [
         {"data": {"name": "c_rr"}, "mark": {"type": "line", "strokeJoin": "round"},
          "encoding": {
            "x": {"field": "t", "type": "quantitative", "scale": {"domain": [0, 25], "nice": false, "zero": false}, "axis": {"values": [0,1,2,3,4,5,6,7,8,9,10,11,12,13,14,15,16,17,18,19,20,21,22,23,24,25], "tickCount": 30, "labelExpr": "[(datum.value + 17) % 24 < 10 ? '0' + ((datum.value + 17) % 24) : '' + ((datum.value + 17) % 24), datum.value == 0 ? '25th' : (datum.value == 7 ? '26th' : '')]", "title": null, "labelOverlap": false, "labelFlush": false, "labelLineHeight": 11, "labelPadding": 1}},
            "y": {"field": "v", "type": "quantitative", "scale": {"domain": [0, 24], "nice": false}, "axis": {"values": [0,3,6,9,12,15,18,21,24], "tickCount": 10, "title": "rain rate [mm hr⁻¹]", "titlePadding": 19}},
            "color": {"field": "s", "type": "nominal", "scale": {"domain": ["R", "Z"], "range": ["#1a8a1a", "black"]}, "legend": {"title": null, "orient": "top-right", "labelExpr": "datum.label == 'Z' ? 'from Z-R at 3km' : 'from RAINNC'", "symbolType": "M-1.4,0H1.4", "symbolSize": 200, "labelFontSize": 8.5, "fillColor": "white", "strokeColor": "#ccc", "padding": 3, "cornerRadius": 2, "rowPadding": 0, "offset": 5}},
            "strokeWidth": {"field": "s", "type": "ordinal", "scale": {"domain": ["R", "Z"], "range": [1.5, 2.8]}, "legend": {"title": null, "orient": "top-right", "labelExpr": "datum.label == 'Z' ? 'from Z-R at 3km' : 'from RAINNC'", "symbolType": "M-1.4,0H1.4", "symbolSize": 200, "labelFontSize": 8.5, "fillColor": "white", "strokeColor": "#ccc", "padding": 3, "cornerRadius": 2, "rowPadding": 0, "offset": 5}},
            "detail": {"field": "g"}
          }},
         {"mark": {"type": "text", "text": "c)", "fontWeight": "bold", "fontSize": 12, "align": "left", "baseline": "middle"}, "encoding": {"x": {"datum": 0.25, "type": "quantitative"}, "y": {"datum": 22.3, "type": "quantitative"}}},
         {"data": {"name": "offset"}, "mark": {"type": "text", "color": "#dd00dd", "fontSize": 9, "align": "center", "baseline": "middle", "dy": -1}, "encoding": {"x": {"field": "t", "type": "quantitative", "title": null}, "y": {"field": "v", "type": "quantitative"}, "text": {"field": "lab"}}}
       ]},
       {"layer": [
         {"data": {"name": "c_vol"}, "mark": {"type": "line", "color": "#ff00ff", "strokeDash": [6, 3], "strokeWidth": 1.8},
          "encoding": {"x": {"field": "t", "type": "quantitative", "title": null}, "y": {"field": "q", "type": "quantitative", "scale": {"domain": [0, 1.4], "nice": false}, "axis": {"orient": "right", "values": [0,0.2,0.4,0.6,0.8,1.0,1.2,1.4], "tickCount": 10, "format": ".1f", "title": "rain volume [kg s ⁻¹]", "titleColor": "#e000e0", "labelColor": "#e000e0", "titlePadding": 3}}}}
       ]}
     ],
     "resolve": {"scale": {"y": "independent"}}
    },
    {"width": 492.5, "height": 192.5,
     "layer": [
       {"data": {"name": "d_bars"}, "transform": [{"fold": ["1DCC", "2WCC", "3DWCC", "4BSR"], "as": ["cat", "val"]}, {"filter": "datum.val > 0"}],
        "mark": {"type": "bar", "width": 6.5, "stroke": "black", "strokeWidth": 0.5},
        "encoding": {
          "x": {"field": "t", "type": "quantitative", "scale": {"domain": [0, 25], "nice": false, "zero": false}, "axis": {"values": [0,1,2,3,4,5,6,7,8,9,10,11,12,13,14,15,16,17,18,19,20,21,22,23,24,25], "tickCount": 30, "labelExpr": "[(datum.value + 17) % 24 < 10 ? '0' + ((datum.value + 17) % 24) : '' + ((datum.value + 17) % 24), datum.value == 0 ? '25th' : (datum.value == 7 ? '26th' : '')]", "title": null, "labelOverlap": false, "labelFlush": false, "labelLineHeight": 11, "labelPadding": 1}},
          "y": {"field": "val", "type": "quantitative", "stack": "zero", "scale": {"domain": [0, 85000], "nice": false}, "axis": {"orient": "left", "labels": false, "title": null, "domain": false, "values": [0,10000,20000,30000,40000,50000,60000,70000,80000], "tickCount": 10}},
          "fill": {"field": "cat", "type": "nominal", "scale": {"domain": ["1DCC", "2WCC", "3DWCC", "4BSR"], "range": ["#ff4f4f", "#62aef5", "#8d6cb8", "#fbbf55"]}, "legend": null},
          "order": {"field": "cat", "type": "ordinal", "sort": "ascending"}
        }},
       {"data": {"name": "d_lines"}, "transform": [{"fold": ["PF", "conv", "strat"], "as": ["k", "v"]}],
        "mark": {"type": "line", "color": "black"},
        "encoding": {
          "x": {"field": "t", "type": "quantitative", "title": null},
          "y": {"field": "v", "type": "quantitative", "axis": {"orient": "right", "values": [0,10000,20000,30000,40000,50000,60000,70000,80000], "tickCount": 10, "format": "d", "title": "area [km²]", "titlePadding": 9}},
          "strokeDash": {"field": "k", "type": "nominal", "scale": {"domain": ["PF", "conv", "strat"], "range": [[1, 0], [5, 3], [1.5, 1.5]]}, "legend": null},
          "strokeWidth": {"field": "k", "type": "ordinal", "scale": {"domain": ["PF", "conv", "strat"], "range": [2.8, 1.1, 1.1]}, "legend": null}
        }},
       {"mark": {"type": "text", "text": "d)", "fontWeight": "bold", "fontSize": 12, "align": "left", "baseline": "middle"}, "encoding": {"x": {"datum": 0.25, "type": "quantitative"}, "y": {"datum": 79000, "type": "quantitative", "axis": null}}}
     ],
     "resolve": {"axis": {"y": "independent"}}
    },
    {"width": 492.5, "height": 192.5,
     "title": {"text": "noSDC", "orient": "left", "anchor": "middle", "fontSize": 20, "fontWeight": "bold", "offset": 40, "color": "#000"},
     "layer": [
       {"layer": [
         {"data": {"name": "e_rr"}, "mark": {"type": "line", "strokeJoin": "round"},
          "encoding": {
            "x": {"field": "t", "type": "quantitative", "scale": {"domain": [0, 25], "nice": false, "zero": false}, "axis": {"values": [0,1,2,3,4,5,6,7,8,9,10,11,12,13,14,15,16,17,18,19,20,21,22,23,24,25], "tickCount": 30, "labelExpr": "[(datum.value + 17) % 24 < 10 ? '0' + ((datum.value + 17) % 24) : '' + ((datum.value + 17) % 24), datum.value == 0 ? '25th' : (datum.value == 7 ? '26th' : '')]", "title": "Time [UTC]", "titlePadding": 11, "labelOverlap": false, "labelFlush": false, "labelLineHeight": 11, "labelPadding": 1}},
            "y": {"field": "v", "type": "quantitative", "scale": {"domain": [0, 24], "nice": false}, "axis": {"values": [0,3,6,9,12,15,18,21,24], "tickCount": 10, "title": "rain rate [mm hr⁻¹]", "titlePadding": 19}},
            "color": {"field": "s", "type": "nominal", "scale": {"domain": ["R", "Z"], "range": ["#1a8a1a", "black"]}, "legend": null},
            "strokeWidth": {"field": "s", "type": "ordinal", "scale": {"domain": ["R", "Z"], "range": [1.5, 2.8]}, "legend": null},
            "detail": {"field": "g"}
          }},
         {"mark": {"type": "text", "text": "e)", "fontWeight": "bold", "fontSize": 12, "align": "left", "baseline": "middle"}, "encoding": {"x": {"datum": 0.25, "type": "quantitative"}, "y": {"datum": 22.3, "type": "quantitative"}}},
         {"data": {"name": "offset"}, "mark": {"type": "text", "color": "#dd00dd", "fontSize": 9, "align": "center", "baseline": "middle", "dy": -1}, "encoding": {"x": {"field": "t", "type": "quantitative"}, "y": {"field": "v", "type": "quantitative"}, "text": {"field": "lab"}}}
       ]},
       {"layer": [
         {"data": {"name": "e_vol"}, "mark": {"type": "line", "color": "#ff00ff", "strokeDash": [6, 3], "strokeWidth": 1.8},
          "encoding": {"x": {"field": "t", "type": "quantitative"}, "y": {"field": "q", "type": "quantitative", "scale": {"domain": [0, 1.4], "nice": false}, "axis": {"orient": "right", "values": [0,0.2,0.4,0.6,0.8,1.0,1.2,1.4], "tickCount": 10, "format": ".1f", "title": "rain volume [kg s ⁻¹]", "titleColor": "#e000e0", "labelColor": "#e000e0", "titlePadding": 3}}}}
       ]}
     ],
     "resolve": {"scale": {"y": "independent"}}
    },
    {"width": 492.5, "height": 192.5,
     "layer": [
       {"data": {"name": "f_bars"}, "transform": [{"fold": ["1DCC", "2WCC", "3DWCC", "4BSR"], "as": ["cat", "val"]}, {"filter": "datum.val > 0"}],
        "mark": {"type": "bar", "width": 6.5, "stroke": "black", "strokeWidth": 0.5},
        "encoding": {
          "x": {"field": "t", "type": "quantitative", "scale": {"domain": [0, 25], "nice": false, "zero": false}, "axis": {"values": [0,1,2,3,4,5,6,7,8,9,10,11,12,13,14,15,16,17,18,19,20,21,22,23,24,25], "tickCount": 30, "labelExpr": "[(datum.value + 17) % 24 < 10 ? '0' + ((datum.value + 17) % 24) : '' + ((datum.value + 17) % 24), datum.value == 0 ? '25th' : (datum.value == 7 ? '26th' : '')]", "title": "Time [UTC]", "titlePadding": 11, "labelOverlap": false, "labelFlush": false, "labelLineHeight": 11, "labelPadding": 1}},
          "y": {"field": "val", "type": "quantitative", "stack": "zero", "scale": {"domain": [0, 85000], "nice": false}, "axis": {"orient": "left", "labels": false, "title": null, "domain": false, "values": [0,10000,20000,30000,40000,50000,60000,70000,80000], "tickCount": 10}},
          "fill": {"field": "cat", "type": "nominal", "scale": {"domain": ["1DCC", "2WCC", "3DWCC", "4BSR"], "range": ["#ff4f4f", "#62aef5", "#8d6cb8", "#fbbf55"]}, "legend": null},
          "order": {"field": "cat", "type": "ordinal", "sort": "ascending"}
        }},
       {"data": {"name": "f_lines"}, "transform": [{"fold": ["PF", "conv", "strat"], "as": ["k", "v"]}],
        "mark": {"type": "line", "color": "black"},
        "encoding": {
          "x": {"field": "t", "type": "quantitative"},
          "y": {"field": "v", "type": "quantitative", "axis": {"orient": "right", "values": [0,10000,20000,30000,40000,50000,60000,70000,80000], "tickCount": 10, "format": "d", "title": "area [km²]", "titlePadding": 9}},
          "strokeDash": {"field": "k", "type": "nominal", "scale": {"domain": ["PF", "conv", "strat"], "range": [[1, 0], [5, 3], [1.5, 1.5]]}, "legend": null},
          "strokeWidth": {"field": "k", "type": "ordinal", "scale": {"domain": ["PF", "conv", "strat"], "range": [2.8, 1.1, 1.1]}, "legend": null}
        }},
       {"mark": {"type": "text", "text": "f)", "fontWeight": "bold", "fontSize": 12, "align": "left", "baseline": "middle"}, "encoding": {"x": {"datum": 0.25, "type": "quantitative"}, "y": {"datum": 79000, "type": "quantitative", "axis": null}}}
     ],
     "resolve": {"axis": {"y": "independent"}}
    }
]
}
